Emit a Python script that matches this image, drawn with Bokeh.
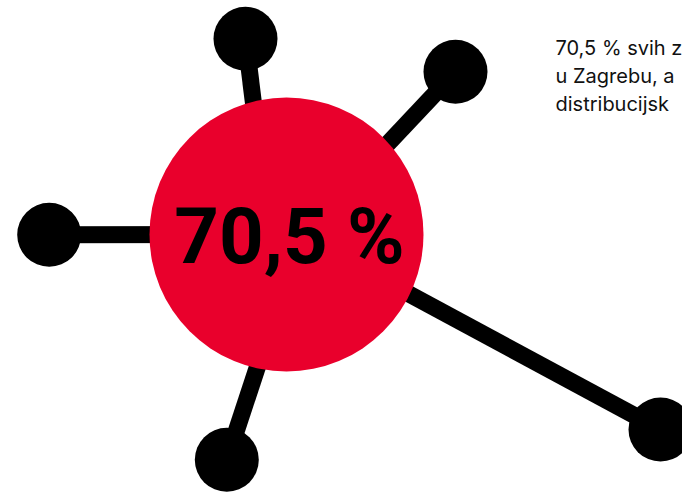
from bokeh.plotting import figure
from bokeh.models import Range1d
from bokeh.embed import file_html
from bokeh.resources import INLINE
from bokeh.core.properties import value

# ---- data ----
share_label = "70,5 %"
hub_center_x = [286]
hub_center_y = [234]
hub_radius = 137

node_x = [245, 455, 48.7, 226.3, 660]
node_y = [38.3, 71.3, 234.3, 459.3, 429]
spoke_end_x = [265, 315, 286, 292, 300]
spoke_end_y = [200, 220, 234, 260, 235]
node_radius = 32

note_lines = ["70,5 % svih z", "u Zagrebu, a", "distribucijsk"]
note_x = [555, 555, 555]
note_y = [47, 75, 103]

RED = "#E9002C"

p = figure(width=682, height=492, x_range=Range1d(0, 682), y_range=Range1d(492, 0),
           output_backend="svg", toolbar_location=None,
           x_axis_type=None, y_axis_type=None, min_border=0)
p.grid.visible = False
p.outline_line_color = None
p.background_fill_color = "white"
p.border_fill_color = "white"

p.segment(x0=spoke_end_x, y0=spoke_end_y, x1=node_x, y1=node_y,
          line_color="black", line_width=17)
p.circle(x=node_x, y=node_y, radius=node_radius, fill_color="black", line_color=None)
p.circle(x=hub_center_x, y=hub_center_y, radius=hub_radius, fill_color=RED, line_color=None)

p.text(x=[289], y=[236], text=[share_label], text_align="center", text_baseline="alphabetic",
       text_font=value("Roboto"), text_font_style="bold", text_font_size="78px",
       text_color="black")

p.text(x=note_x, y=note_y, text=note_lines, text_align="left", text_baseline="alphabetic",
       text_font=value("Inter"), text_font_size="20px", text_color="#111111")

open("out.html", "w").write(file_html(p, INLINE))
